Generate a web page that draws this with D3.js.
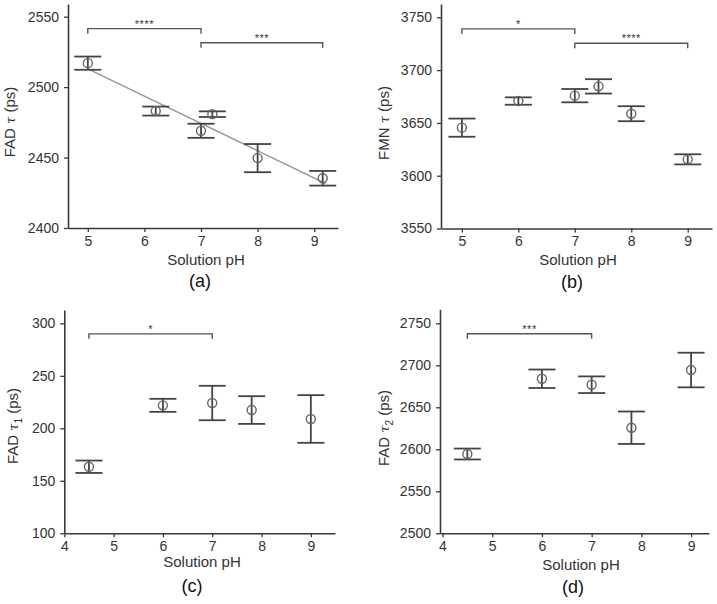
<!DOCTYPE html>
<html><head><meta charset="utf-8">
<script src="https://cdn.jsdelivr.net/npm/d3@7"></script>
<style>
body{margin:0;background:#fff;}
svg{display:block;font-family:"Liberation Sans",Arial,sans-serif;}
</style></head>
<body>
<svg id="chart" width="717" height="604"></svg>
<script>
// ---- Data ----
// (a) FAD tau
const phA = [5, 6.2, 7, 7.2, 8, 9.15];
const meanA = [2517, 2483, 2469, 2480.8, 2449.6, 2435.3];
const errA = [4.7, 3.2, 5, 2, 10, 5.2];
const yTicksA = [2400, 2450, 2500, 2550];
const xTicksA = [5, 6, 7, 8, 9];
// (b) FMN tau
const phB = [5, 6, 7, 7.42, 8, 9];
const meanB = [3645.5, 3670.7, 3675.8, 3684.6, 3658.7, 3615.5];
const errB = [8.6, 3.5, 6.3, 6.8, 7.1, 4.8];
const yTicksB = [3550, 3600, 3650, 3700, 3750];
const xTicksB = [5, 6, 7, 8, 9];
// (c) FAD tau1
const phC = [4.5, 6, 7, 7.8, 9];
const meanC = [163.4, 221.9, 224.1, 217.4, 208.9];
const errC = [5.9, 6.2, 16.4, 13.2, 22.7];
const yTicksC = [100, 150, 200, 250, 300];
const xTicksC = [4, 5, 6, 7, 8, 9];
// (d) FAD tau2
const phD = [4.5, 6, 7, 7.8, 9];
const meanD = [2594.4, 2684, 2676.9, 2625.7, 2694.4];
const errD = [6.5, 11, 9.9, 19.3, 20.6];
const yTicksD = [2500, 2550, 2600, 2650, 2700, 2750];
const xTicksD = [4, 5, 6, 7, 8, 9];
// significance brackets: [x1, x2, y, label]
const sigA = [[5, 7, 2541.5, "****"], [7, 9.15, 2531.5, "***"]];
const sigB = [[5, 7, 3739, "*"], [7, 9, 3725.5, "****"]];
const sigC = [[4.5, 7, 290, "*"]];
const sigD = [[4.5, 7, 2737.6, "***"]];

const svg = d3.select("#chart");
const AX = "#3a3a3a";

function panel(cfg) {
  const g = svg.append("g");
  const x = d3.scaleLinear().domain(cfg.xd).range(cfg.xr);
  const y = d3.scaleLinear().domain(cfg.yd).range(cfg.yr);

  const xa = g.append("g").attr("transform", `translate(0,${cfg.yr[0]})`)
    .call(d3.axisBottom(x).tickValues(cfg.xt).tickFormat(d3.format("d")).tickSize(4).tickPadding(4).tickSizeOuter(0));
  const ya = g.append("g").attr("transform", `translate(${cfg.xr[0]},0)`)
    .call(d3.axisLeft(y).tickValues(cfg.yt).tickFormat(d3.format("d")).tickSize(4).tickPadding(5).tickSizeOuter(0));
  [xa, ya].forEach(a => {
    a.select(".domain").attr("stroke", AX).attr("stroke-width", 1.6);
    a.selectAll(".tick line").attr("stroke", AX).attr("stroke-width", 1.3);
    a.selectAll(".tick text").attr("fill", "#333").style("font-size", "14px").style("font-family", '"Liberation Sans",Arial,sans-serif');
  });

  // regression line
  if (cfg.fit) {
    const n = cfg.px.length;
    const mx = d3.mean(cfg.px), my = d3.mean(cfg.m);
    let sxy = 0, sxx = 0;
    for (let i = 0; i < n; i++) { sxy += (cfg.px[i]-mx)*(cfg.m[i]-my); sxx += (cfg.px[i]-mx)**2; }
    const b = sxy/sxx, a0 = my - b*mx;
    const xs = [cfg.fit[0], cfg.fit[1]];
    g.append("line")
      .attr("x1", x(xs[0])).attr("y1", y(a0+b*xs[0]))
      .attr("x2", x(xs[1])).attr("y2", y(a0+b*xs[1]))
      .attr("stroke", "#9a9a9a").attr("stroke-width", 1.5);
  }

  const cap = 13.5;
  const pts = cfg.px.map((p, i) => ({p, m: cfg.m[i], e: cfg.e[i]}));
  const eg = g.append("g").attr("stroke", "#444").attr("stroke-width", 1.8).attr("fill", "none");
  pts.forEach(d => {
    eg.append("line").attr("x1", x(d.p)).attr("x2", x(d.p)).attr("y1", y(d.m+d.e)).attr("y2", y(d.m-d.e));
    eg.append("line").attr("x1", x(d.p)-cap).attr("x2", x(d.p)+cap).attr("y1", y(d.m+d.e)).attr("y2", y(d.m+d.e));
    eg.append("line").attr("x1", x(d.p)-cap).attr("x2", x(d.p)+cap).attr("y1", y(d.m-d.e)).attr("y2", y(d.m-d.e));
  });
  g.selectAll("circle.pt").data(pts).enter().append("circle")
    .attr("cx", d => x(d.p)).attr("cy", d => y(d.m)).attr("r", 4.5)
    .attr("fill", "none").attr("stroke", "#666").attr("stroke-width", 1.4);

  // significance brackets
  cfg.sig.forEach(s => {
    const yy = y(s[2]);
    g.append("path")
      .attr("d", `M${x(s[0])},${yy+5}V${yy}H${x(s[1])}V${yy+5}`)
      .attr("fill", "none").attr("stroke", "#555").attr("stroke-width", 1.4);
    g.append("text").attr("x", (x(s[0])+x(s[1]))/2).attr("y", yy-1)
      .attr("text-anchor", "middle").attr("fill", "#333").style("font-size", "11px")
      .style("letter-spacing", "0.5px").text(s[3]);
  });

  // axis titles
  g.append("text").attr("x", cfg.xtPos[0]).attr("y", cfg.xtPos[1]).attr("text-anchor", "middle")
    .attr("fill", "#333").style("font-size", "15px").text("Solution pH");
  const yt = g.append("text").attr("transform", `translate(${cfg.ytPos[0]},${cfg.ytPos[1]}) rotate(-90)`)
    .attr("text-anchor", "middle").attr("dy", "0.35em").attr("fill", "#333").style("font-size", "15px");
  yt.append("tspan").text(cfg.yName + " ");
  yt.append("tspan").style("font-style", "italic").style("font-family", '"DejaVu Serif",serif').style("font-size", "13px").text("τ");
  if (cfg.sub) yt.append("tspan").attr("dy", "4").style("font-size", "10px").text(cfg.sub);
  yt.append("tspan").attr("dy", cfg.sub ? "-4" : "0").text(" (ps)");

  g.append("text").attr("x", cfg.lab[0]).attr("y", cfg.lab[1]).attr("text-anchor", "middle")
    .attr("fill", "#111").style("font-size", "18px").text(cfg.label);
}

panel({xd: [4.65, 9.42], xr: [68, 338], yd: [2400, 2559], yr: [228, 4], xt: xTicksA, yt: yTicksA,
  px: phA, m: meanA, e: errA, sig: sigA, fit: [5, 9.2], yName: "FAD", xtPos: [206, 265], ytPos: [10, 122],
  lab: [200, 287], label: "(a)"});
panel({xd: [4.63, 9.43], xr: [441, 712], yd: [3550, 3762.6], yr: [228.5, 4], xt: xTicksB, yt: yTicksB,
  px: phB, m: meanB, e: errB, sig: sigB, yName: "FMN", xtPos: [578, 265], ytPos: [384, 123],
  lab: [572, 288], label: "(b)"});
panel({xd: [4, 9.49], xr: [64.3, 335], yd: [100, 312.7], yr: [533.3, 310], xt: xTicksC, yt: yTicksC,
  px: phC, m: meanC, e: errC, sig: sigC, sub: "1", yName: "FAD", xtPos: [202, 567], ytPos: [13, 426],
  lab: [192, 592], label: "(c)"});
panel({xd: [3.95, 9.36], xr: [440, 709], yd: [2500, 2766.7], yr: [533.3, 309.3], xt: xTicksD, yt: yTicksD,
  px: phD, m: meanD, e: errD, sig: sigD, sub: "2", yName: "FAD", xtPos: [581, 570], ytPos: [384, 428],
  lab: [573, 593], label: "(d)"});
</script>
</body></html>
